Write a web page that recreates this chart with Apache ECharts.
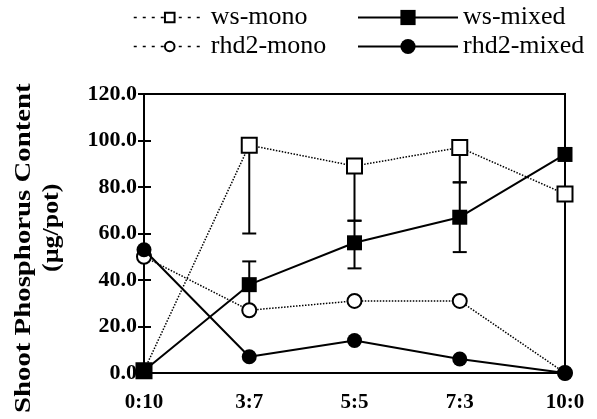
<!DOCTYPE html>
<html>
<head>
<meta charset="utf-8">
<script src="https://cdn.jsdelivr.net/npm/echarts@6/dist/echarts.min.js"></script>
<style>
html,body{margin:0;padding:0;background:#fff;}
#chart{width:597px;height:419px;}
</style>
</head>
<body>
<div id="chart"></div>
<script>
var categories = ['0:10', '3:7', '5:5', '7:3', '10:0'];
var wsMono = [1, 98, 89, 97, 77];
var wsMixed = [1, 38, 56, 67, 94];
var rhd2Mono = [50, 27, 31, 31, 0];
var rhd2Mixed = [53, 7, 14, 6, 0];
// error bars: [category index, low, high]
var wsMonoErr = [[1, 60, 98], [2, 65.5, 89], [3, 82, 97]];
var wsMixedErr = [[1, 28, 48], [2, 45, 65.5], [3, 52, 82]];
var yTicks = {min: 0, max: 120, interval: 20};

var chart = echarts.init(document.getElementById('chart'), null, {renderer: 'canvas'});
var serif = '"Liberation Serif", "Times New Roman", serif';

function errRender(params, api) {
  var x = api.value(0);
  var p1 = api.coord([x, api.value(1)]);
  var p2 = api.coord([x, api.value(2)]);
  var hw = 7;
  var st = {stroke: '#000', lineWidth: 2};
  return {
    type: 'group',
    children: [
      {type: 'line', shape: {x1: p1[0], y1: p1[1], x2: p2[0], y2: p2[1]}, style: st},
      {type: 'line', shape: {x1: p1[0] - hw, y1: p1[1], x2: p1[0] + hw, y2: p1[1]}, style: st},
      {type: 'line', shape: {x1: p2[0] - hw, y1: p2[1], x2: p2[0] + hw, y2: p2[1]}, style: st}
    ]
  };
}

var legendText = {fontFamily: serif, fontSize: 26, color: '#000', lineHeight: 29};

var option = {
  backgroundColor: '#fff',
  animation: false,
  grid: {left: 144, right: 32, top: 94, bottom: 46, show: true, borderColor: '#000', borderWidth: 2, backgroundColor: 'transparent'},
  legend: [
    {data: ['ws-mono', 'rhd2-mono'], orient: 'vertical', left: 133, top: 3, padding: 0,
      itemWidth: 72, itemHeight: 12, itemGap: 0, textStyle: legendText,
      lineStyle: {type: [3, 6], width: 1.5, color: '#000'}},
    {data: ['ws-mixed', 'rhd2-mixed'], orient: 'vertical', left: 357, top: 3, padding: 0,
      itemWidth: 100, itemHeight: 19, itemGap: 0, textStyle: legendText}
  ],
  xAxis: {
    type: 'category', data: categories, boundaryGap: false,
    axisLine: {lineStyle: {color: '#000', width: 2}},
    axisTick: {show: false},
    axisLabel: {fontFamily: serif, fontWeight: 'bold', fontSize: 21, color: '#000', margin: 19},
    splitLine: {show: false}
  },
  yAxis: [
    {
      type: 'value', min: yTicks.min, max: yTicks.max, interval: yTicks.interval,
      axisLine: {show: true, lineStyle: {color: '#000', width: 2}},
      axisTick: {show: true, inside: true, length: 7, lineStyle: {color: '#000', width: 2}},
      axisLabel: {fontFamily: serif, fontWeight: 'bold', fontSize: 22, color: '#000', margin: 7,
        formatter: function (v) { return v.toFixed(1); }},
      splitLine: {show: false}
    },
    {
      type: 'value', min: yTicks.min, max: yTicks.max, interval: yTicks.interval, position: 'left',
      axisLine: {show: false},
      axisTick: {show: true, inside: false, length: 6, lineStyle: {color: '#000', width: 2}},
      axisLabel: {show: false},
      splitLine: {show: false}
    }
  ],
  graphic: [
    {type: 'text', x: 12, y: 413, rotation: Math.PI / 2, scaleX: 1.2, scaleY: 1,
      style: {text: 'Shoot Phosphorus Content', fontFamily: serif, fontWeight: 'bold', fontSize: 24, fill: '#000', textVerticalAlign: 'top'}},
    {type: 'text', x: 40, y: 272, rotation: Math.PI / 2, scaleX: 1.08, scaleY: 1,
      style: {text: '(\u00b5g/pot)', fontFamily: serif, fontWeight: 'bold', fontSize: 24, fill: '#000', textVerticalAlign: 'top'}}
  ],
  series: [
    {type: 'custom', name: 'wsMonoErr', data: wsMonoErr, renderItem: errRender, z: 1, silent: true},
    {type: 'custom', name: 'wsMixedErr', data: wsMixedErr, renderItem: errRender, z: 1, silent: true},
    {
      name: 'rhd2-mono', type: 'line', data: rhd2Mono, symbol: 'emptyCircle', symbolSize: 14,
      lineStyle: {color: '#000', width: 1.5, type: 'dotted'},
      itemStyle: {color: '#000', borderColor: '#000', borderWidth: 2}, z: 3
    },
    {
      name: 'ws-mono', type: 'line', data: wsMono, symbol: 'emptyRect', symbolSize: 15,
      lineStyle: {color: '#000', width: 1.5, type: 'dotted'},
      itemStyle: {color: '#000', borderColor: '#000', borderWidth: 2}, z: 3
    },
    {
      name: 'rhd2-mixed', type: 'line', data: rhd2Mixed, symbol: 'circle', symbolSize: 15,
      lineStyle: {color: '#000', width: 2},
      itemStyle: {color: '#000'}, z: 4
    },
    {
      name: 'ws-mixed', type: 'line', data: wsMixed, symbol: 'rect', symbolSize: 15,
      lineStyle: {color: '#000', width: 2},
      itemStyle: {color: '#000'}, z: 4
    }
  ]
};
chart.setOption(option);
</script>
</body>
</html>
